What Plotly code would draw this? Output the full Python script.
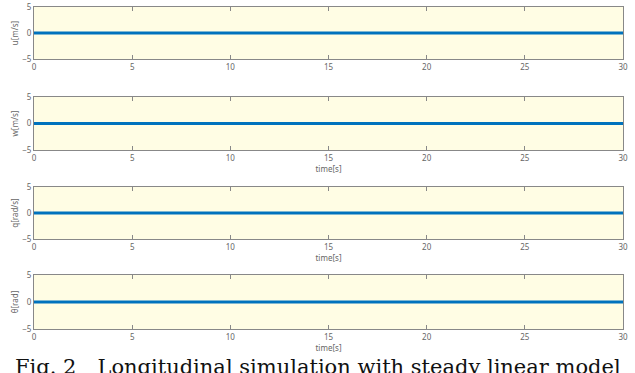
import plotly.graph_objects as go

time = [0, 5, 10, 15, 20, 25, 30]
u_vals = [0, 0, 0, 0, 0, 0, 0]
w_vals = [0, 0, 0, 0, 0, 0, 0]
q_vals = [0, 0, 0, 0, 0, 0, 0]
theta_vals = [0, 0, 0, 0, 0, 0, 0]
series = [u_vals, w_vals, q_vals, theta_vals]
ylabels = ["u[m/s]", "w[m/s]", "q[rad/s]", "θ[rad]"]
show_xlabel = [False, True, True, True]
x_ticks = [0, 5, 10, 15, 20, 25, 30]
y_ticks = [-5, 0, 5]
caption = "Fig. 2\u2003Longitudinal simulation with steady linear model"

W, H = 635, 373
x_dom = [34 / W, 623 / W]
panels_px = [(7, 59), (97, 150), (187, 239), (275, 329)]

fig = go.Figure()
small = dict(family="Noto Sans, DejaVu Sans, sans-serif", size=8, color="#666666")
for i, (vals, lab) in enumerate(zip(series, ylabels)):
    n = "" if i == 0 else str(i + 1)
    fig.add_trace(go.Scatter(x=time, y=vals, mode="lines",
                             line=dict(color="#0072BD", width=3),
                             xaxis="x" + n, yaxis="y" + n, showlegend=False))
    top, bot = panels_px[i]
    fig.layout["xaxis" + n] = dict(
        domain=x_dom, anchor="y" + n, range=[0, 30], tickvals=x_ticks,
        ticks="inside", ticklen=4, tickcolor="#888888", mirror="ticks",
        showline=True, linecolor="#888888", linewidth=1, showgrid=False,
        zeroline=False, tickfont=small, automargin=False,
        title=dict(text="time[s]" if show_xlabel[i] else "", font=small, standoff=2),
    )
    fig.layout["yaxis" + n] = dict(
        domain=[1 - bot / H, 1 - top / H], anchor="x" + n, range=[-5, 5],
        tickvals=y_ticks, ticks="", showline=True, mirror=True,
        linecolor="#888888", linewidth=1, showgrid=False, zeroline=False,
        tickfont=small, automargin=False,
        title=dict(text=lab, font=small, standoff=2),
    )

fig.add_annotation(text=caption, xref="paper", yref="paper", x=0.5, y=1 - 353 / H,
                   xanchor="center", yanchor="top", showarrow=False,
                   font=dict(family="DejaVu Serif, Liberation Serif, serif", size=21, color="#111111"))

fig.update_layout(width=W, height=H, margin=dict(l=0, r=0, t=0, b=0, autoexpand=False),
                  paper_bgcolor="white", plot_bgcolor="#FFFDE4")
fig.write_html("out.html")
